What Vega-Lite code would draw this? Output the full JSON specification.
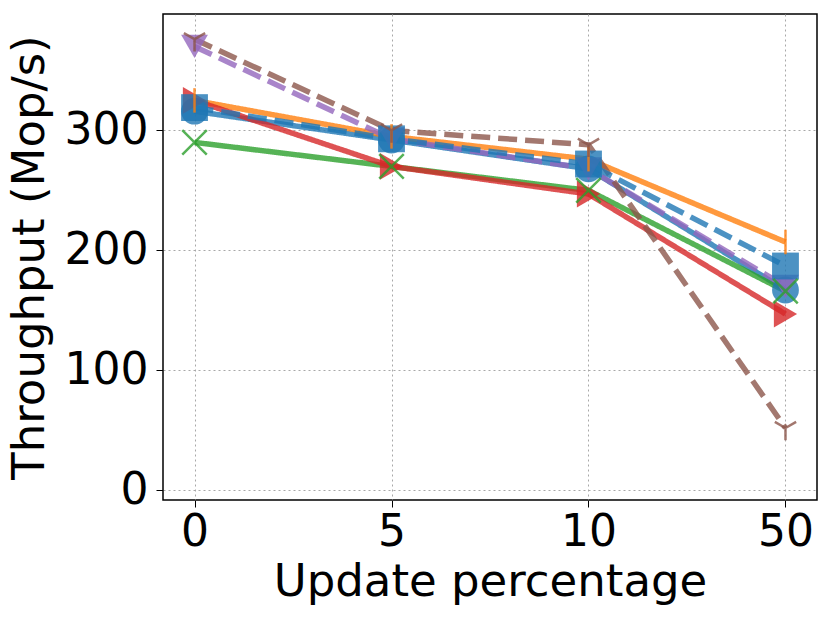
{
  "$schema": "https://vega.github.io/schema/vega-lite/v6.json",
  "autosize": {"type": "none"},
  "width": 654,
  "height": 486,
  "padding": {"left": 163, "top": 14, "right": 14, "bottom": 122},
  "background": "white",
  "data": {
    "values": [
      {"series": "A", "x": "0", "y": 316},
      {"series": "A", "x": "5", "y": 292},
      {"series": "A", "x": "10", "y": 268},
      {"series": "A", "x": "50", "y": 167},
      {"series": "B", "x": "0", "y": 325},
      {"series": "B", "x": "5", "y": 295},
      {"series": "B", "x": "10", "y": 276},
      {"series": "B", "x": "50", "y": 207},
      {"series": "C", "x": "0", "y": 290},
      {"series": "C", "x": "5", "y": 270},
      {"series": "C", "x": "10", "y": 250},
      {"series": "C", "x": "50", "y": 166},
      {"series": "D", "x": "0", "y": 325},
      {"series": "D", "x": "5", "y": 270},
      {"series": "D", "x": "10", "y": 247},
      {"series": "D", "x": "50", "y": 147},
      {"series": "E", "x": "0", "y": 370},
      {"series": "E", "x": "5", "y": 293},
      {"series": "E", "x": "10", "y": 268},
      {"series": "E", "x": "50", "y": 170},
      {"series": "F", "x": "0", "y": 376},
      {"series": "F", "x": "5", "y": 300},
      {"series": "F", "x": "10", "y": 288},
      {"series": "F", "x": "50", "y": 52},
      {"series": "G", "x": "0", "y": 319},
      {"series": "G", "x": "5", "y": 293},
      {"series": "G", "x": "10", "y": 272},
      {"series": "G", "x": "50", "y": 187}
    ]
  },
  "encoding": {
    "x": {
      "field": "x",
      "type": "ordinal",
      "sort": ["0", "5", "10", "50"],
      "scale": {"type": "point", "padding": 0.16},
      "axis": {
        "title": "Update percentage",
        "labelAngle": 0,
        "grid": true,
        "gridDash": [2, 3],
        "gridColor": "#a8a8a8",
        "gridWidth": 1,
        "tickSize": 7,
        "tickColor": "black",
        "labelFontSize": 44,
        "titleFontSize": 45,
        "labelPadding": 3,
        "titlePadding": 5,
        "domain": false
      }
    },
    "y": {
      "field": "y",
      "type": "quantitative",
      "scale": {"domain": [-8, 397], "nice": false, "zero": false},
      "axis": {
        "title": "Throughput (Mop/s)",
        "values": [0, 100, 200, 300],
        "grid": true,
        "gridDash": [2, 3],
        "gridColor": "#a8a8a8",
        "gridWidth": 1,
        "tickSize": 7,
        "tickColor": "black",
        "labelFontSize": 44,
        "titleFontSize": 45,
        "labelPadding": 8,
        "titlePadding": 12,
        "domain": false
      }
    },
    "color": {
      "field": "series",
      "type": "nominal",
      "scale": {
        "domain": ["A", "B", "C", "D", "E", "F", "G"],
        "range": ["#1f77b4", "#ff7f0e", "#2ca02c", "#d62728", "#9467bd", "#8c564b", "#1f77b4"]
      },
      "legend": null
    }
  },
  "layer": [
    {
      "mark": {"type": "line", "strokeWidth": 5.5, "opacity": 0.8},
      "encoding": {
        "strokeDash": {
          "field": "series",
          "type": "nominal",
          "scale": {
            "domain": ["A", "B", "C", "D", "E", "F", "G"],
            "range": [[1, 0], [1, 0], [1, 0], [1, 0], [19, 8], [19, 8], [19, 8]]
          },
          "legend": null
        }
      }
    },
    {
      "transform": [{"filter": "indexof(['A','D','E','G'], datum.series) >= 0"}],
      "mark": {"type": "point", "filled": true, "opacity": 0.8, "size": 720},
      "encoding": {
        "shape": {
          "field": "series",
          "type": "nominal",
          "scale": {
            "domain": ["A", "D", "E", "G"],
            "range": ["circle", "triangle-right", "triangle-down", "square"]
          },
          "legend": null
        }
      }
    },
    {
      "transform": [{"filter": "indexof(['B','C','F'], datum.series) >= 0"}],
      "mark": {"type": "point", "filled": false, "opacity": 0.8, "size": 600, "strokeWidth": 2.5},
      "encoding": {
        "shape": {
          "field": "series",
          "type": "nominal",
          "scale": {
            "domain": ["B", "C", "F"],
            "range": ["M0,-1L0,1", "M-1,-1L1,1M-1,1L1,-1", "M0,0L0,1M0,0L-0.87,-0.5M0,0L0.87,-0.5"]
          },
          "legend": null
        }
      }
    }
  ],
  "resolve": {"scale": {"shape": "independent"}},
  "config": {
    "font": "DejaVu Sans",
    "view": {"stroke": "black", "strokeWidth": 1.5},
    "axis": {"labelColor": "black", "titleColor": "black", "titleFontWeight": "normal", "labelFont": "DejaVu Sans", "titleFont": "DejaVu Sans"}
  }
}
